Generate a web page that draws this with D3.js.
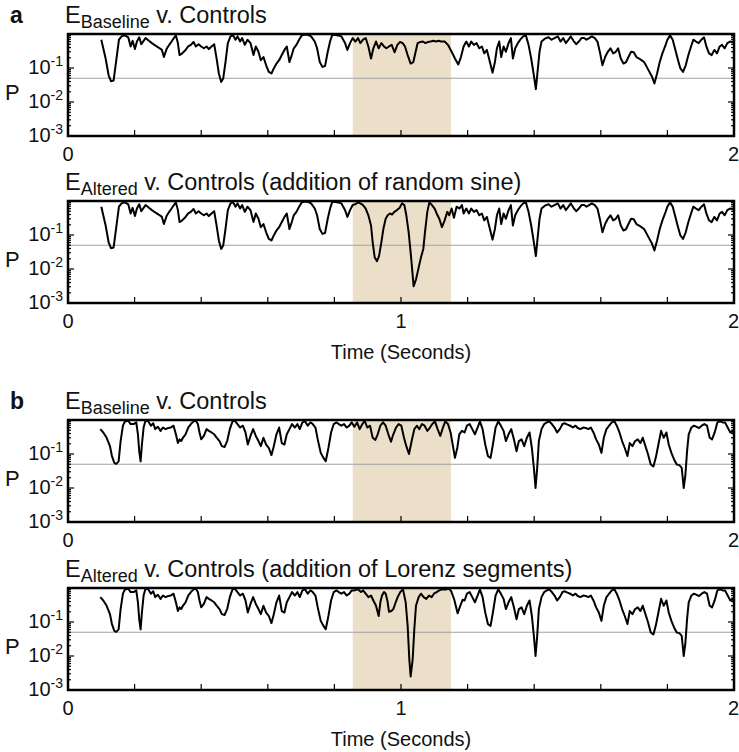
<!DOCTYPE html>
<html>
<head>
<meta charset="utf-8">
<script src="https://cdn.jsdelivr.net/npm/d3@7"></script>
<style>
body { margin: 0; background: #fff; }
text { font-family: "Liberation Sans", Arial, sans-serif; fill: #111; }
</style>
</head>
<body>
<svg id="chart"></svg>
<script>
// [time (s), P]
const headA = [[0.100,0.68],[0.113,0.19],[0.122,0.061],[0.129,0.041],[0.137,0.043],[0.145,0.17],[0.153,0.68],[0.161,0.85],[0.171,0.91],[0.181,0.80],[0.188,0.43],[0.194,0.63],[0.201,0.36],[0.207,0.60],[0.214,0.80],[0.220,0.50],[0.227,0.63],[0.233,0.76],[0.243,0.63],[0.252,0.54],[0.262,0.46],[0.272,0.40],[0.282,0.34],[0.288,0.21],[0.296,0.36],[0.304,0.48],[0.311,0.60],[0.318,0.76],[0.324,0.91],[0.330,0.54],[0.335,0.24],[0.343,0.27],[0.353,0.34],[0.361,0.43],[0.369,0.48],[0.377,0.58],[0.384,0.43],[0.392,0.50],[0.400,0.43],[0.408,0.38],[0.416,0.43],[0.423,0.36],[0.431,0.43],[0.439,0.50],[0.447,0.17],[0.453,0.069],[0.460,0.039],[0.466,0.049],[0.473,0.15],[0.480,0.54],[0.488,0.85],[0.496,0.91],[0.503,0.68],[0.509,0.85],[0.517,0.60],[0.523,0.76],[0.531,0.48],[0.539,0.68],[0.548,0.54],[0.557,0.24],[0.564,0.43],[0.572,0.30],[0.579,0.17],[0.587,0.21],[0.595,0.12],[0.603,0.077],[0.611,0.069],[0.618,0.097],[0.626,0.135],[0.634,0.17],[0.642,0.24],[0.650,0.34],[0.657,0.43],[0.665,0.15],[0.672,0.24],[0.678,0.38],[0.686,0.48],[0.694,0.68],[0.702,0.91],[0.711,0.95],[0.720,0.95],[0.730,0.85],[0.741,0.60],[0.748,0.38],[0.756,0.15],[0.764,0.108],[0.772,0.115],[0.780,0.30],[0.787,0.60],[0.793,0.91],[0.800,0.95],[0.811,0.91],[0.821,0.85],[0.832,0.54],[0.839,0.34],[0.847,0.54]];
const winBaseA = [[0.855,0.76],[0.863,0.60],[0.871,0.76],[0.878,0.54],[0.886,0.68],[0.894,0.76],[0.902,0.43],[0.910,0.19],[0.917,0.38],[0.925,0.60],[0.933,0.38],[0.941,0.54],[0.949,0.43],[0.956,0.38],[0.964,0.43],[0.972,0.48],[0.981,0.29],[0.989,0.48],[0.997,0.58],[1.005,0.54],[1.012,0.43],[1.020,0.24],[1.029,0.135],[1.037,0.15],[1.044,0.30],[1.050,0.54],[1.058,0.58],[1.066,0.60],[1.073,0.54],[1.081,0.58],[1.089,0.60],[1.097,0.63],[1.105,0.60],[1.113,0.63],[1.120,0.60],[1.131,0.60],[1.141,0.48],[1.152,0.30],[1.162,0.19],[1.172,0.127],[1.180,0.21]];
const winAltA = [[0.855,0.76],[0.863,0.80],[0.871,0.91],[0.878,0.85],[0.886,0.76],[0.894,0.60],[0.902,0.38],[0.910,0.19],[0.915,0.061],[0.921,0.022],[0.928,0.017],[0.934,0.024],[0.941,0.061],[0.947,0.15],[0.954,0.30],[0.960,0.38],[0.967,0.43],[0.973,0.40],[0.980,0.48],[0.988,0.54],[0.996,0.63],[1.003,0.85],[1.010,0.76],[1.016,0.38],[1.023,0.12],[1.030,0.024],[1.038,0.0031],[1.045,0.0049],[1.053,0.011],[1.060,0.022],[1.067,0.039],[1.072,0.12],[1.079,0.48],[1.085,0.91],[1.093,0.76],[1.101,0.60],[1.107,0.43],[1.115,0.30],[1.123,0.17],[1.131,0.27],[1.139,0.48],[1.145,0.38],[1.152,0.60],[1.159,0.32],[1.167,0.68],[1.175,0.60],[1.183,0.76]];
const tailA = [[1.188,0.43],[1.196,0.60],[1.204,0.43],[1.211,0.60],[1.219,0.48],[1.227,0.54],[1.235,0.38],[1.243,0.43],[1.250,0.27],[1.258,0.34],[1.267,0.15],[1.275,0.073],[1.282,0.15],[1.288,0.38],[1.295,0.60],[1.301,0.21],[1.308,0.43],[1.315,0.30],[1.323,0.54],[1.330,0.76],[1.336,0.19],[1.343,0.38],[1.351,0.54],[1.358,0.68],[1.367,0.85],[1.375,0.91],[1.383,0.48],[1.391,0.19],[1.399,0.061],[1.405,0.024],[1.410,0.077],[1.416,0.30],[1.422,0.60],[1.432,0.73],[1.443,0.80],[1.452,0.68],[1.461,0.76],[1.471,0.85],[1.479,0.60],[1.487,0.76],[1.495,0.54],[1.503,0.68],[1.510,0.85],[1.518,0.63],[1.526,0.50],[1.534,0.60],[1.542,0.76],[1.550,0.76],[1.557,0.68],[1.565,0.76],[1.573,0.85],[1.582,0.76],[1.590,0.60],[1.598,0.27],[1.605,0.12],[1.613,0.21],[1.621,0.30],[1.629,0.38],[1.637,0.27],[1.645,0.30],[1.652,0.38],[1.660,0.19],[1.668,0.135],[1.676,0.15],[1.683,0.21],[1.691,0.30],[1.699,0.29],[1.707,0.21],[1.715,0.19],[1.722,0.17],[1.730,0.15],[1.738,0.108],[1.746,0.077],[1.754,0.055],[1.761,0.035],[1.769,0.069],[1.777,0.15],[1.785,0.27],[1.793,0.43],[1.800,0.68],[1.808,0.91],[1.816,0.68],[1.824,0.34],[1.832,0.17],[1.839,0.097],[1.847,0.077],[1.855,0.12],[1.863,0.24],[1.871,0.43],[1.878,0.68],[1.886,0.60],[1.894,0.54],[1.902,0.68],[1.910,0.80],[1.917,0.43],[1.925,0.27],[1.933,0.24],[1.941,0.34],[1.949,0.27],[1.957,0.43],[1.964,0.48],[1.972,0.38],[1.980,0.54],[1.988,0.60],[1.996,0.58],[2.000,0.63]];

const headB = [[0.097,0.54],[0.106,0.43],[0.116,0.30],[0.126,0.17],[0.132,0.087],[0.139,0.055],[0.145,0.051],[0.152,0.061],[0.158,0.24],[0.165,0.68],[0.171,0.91],[0.181,0.95],[0.188,0.76],[0.197,0.76],[0.205,0.85],[0.210,0.38],[0.214,0.12],[0.218,0.061],[0.222,0.19],[0.227,0.60],[0.232,0.91],[0.240,0.95],[0.249,0.68],[0.256,0.80],[0.262,0.54],[0.270,0.63],[0.278,0.48],[0.285,0.60],[0.293,0.54],[0.301,0.58],[0.309,0.60],[0.317,0.68],[0.324,0.38],[0.330,0.21],[0.335,0.27],[0.340,0.24],[0.345,0.30],[0.353,0.38],[0.361,0.60],[0.369,0.76],[0.377,0.91],[0.384,0.95],[0.390,0.76],[0.395,0.43],[0.400,0.27],[0.408,0.34],[0.416,0.54],[0.423,0.48],[0.431,0.43],[0.439,0.38],[0.447,0.30],[0.455,0.24],[0.462,0.17],[0.470,0.16],[0.478,0.24],[0.486,0.54],[0.494,0.91],[0.501,0.95],[0.509,0.76],[0.517,0.60],[0.525,0.68],[0.533,0.43],[0.540,0.19],[0.548,0.34],[0.556,0.54],[0.564,0.34],[0.572,0.24],[0.579,0.17],[0.587,0.30],[0.595,0.19],[0.603,0.15],[0.611,0.093],[0.618,0.17],[0.626,0.38],[0.634,0.60],[0.642,0.21],[0.650,0.19],[0.657,0.38],[0.665,0.54],[0.673,0.76],[0.681,0.60],[0.689,0.76],[0.696,0.54],[0.704,0.85],[0.712,0.91],[0.720,0.68],[0.728,0.85],[0.735,0.76],[0.743,0.60],[0.751,0.24],[0.759,0.108],[0.767,0.077],[0.774,0.061],[0.782,0.15],[0.790,0.43],[0.798,0.76],[0.806,0.85],[0.813,0.76],[0.821,0.68],[0.829,0.76],[0.837,0.60],[0.845,0.68]];
const winBaseB = [[0.852,0.85],[0.860,0.63],[0.868,0.85],[0.876,0.54],[0.884,0.76],[0.891,0.95],[0.899,0.60],[0.907,0.68],[0.915,0.30],[0.923,0.26],[0.930,0.38],[0.938,0.68],[0.946,0.85],[0.954,0.68],[0.962,0.38],[0.970,0.23],[0.977,0.38],[0.985,0.60],[0.993,0.76],[1.001,0.68],[1.009,0.30],[1.016,0.17],[1.024,0.10],[1.032,0.24],[1.040,0.54],[1.048,0.68],[1.055,0.54],[1.063,0.76],[1.071,0.68],[1.079,0.48],[1.087,0.60],[1.094,0.76],[1.102,0.91],[1.110,0.54],[1.118,0.34],[1.126,0.60],[1.133,0.91],[1.141,0.76],[1.149,0.43],[1.157,0.15],[1.162,0.077],[1.169,0.15],[1.175,0.38],[1.183,0.48]];
const winAltB = [[0.852,0.85],[0.860,0.85],[0.871,0.91],[0.880,0.76],[0.886,0.85],[0.894,0.68],[0.902,0.54],[0.910,0.60],[0.917,0.43],[0.925,0.30],[0.933,0.15],[0.938,0.38],[0.943,0.60],[0.949,0.76],[0.954,0.68],[0.959,0.43],[0.964,0.20],[0.971,0.21],[0.977,0.24],[0.984,0.38],[0.990,0.54],[0.998,0.76],[1.006,0.91],[1.014,0.38],[1.020,0.077],[1.025,0.0079],[1.029,0.0025],[1.035,0.0079],[1.040,0.061],[1.045,0.30],[1.053,0.54],[1.060,0.68],[1.068,0.54],[1.076,0.48],[1.084,0.60],[1.092,0.54],[1.099,0.68],[1.107,0.76],[1.115,0.85],[1.123,0.91],[1.133,0.91],[1.144,0.95],[1.151,0.80],[1.160,0.45],[1.170,0.18],[1.178,0.30],[1.185,0.45]];
const tailB = [[1.191,0.43],[1.198,0.68],[1.206,0.76],[1.214,0.54],[1.222,0.38],[1.230,0.60],[1.237,0.91],[1.245,0.54],[1.253,0.19],[1.261,0.087],[1.269,0.077],[1.276,0.19],[1.284,0.60],[1.292,0.91],[1.300,0.68],[1.308,0.48],[1.315,0.24],[1.323,0.38],[1.331,0.54],[1.339,0.27],[1.347,0.12],[1.354,0.24],[1.362,0.27],[1.370,0.17],[1.378,0.30],[1.386,0.43],[1.393,0.15],[1.399,0.039],[1.404,0.010],[1.409,0.039],[1.414,0.24],[1.422,0.54],[1.430,0.76],[1.438,0.85],[1.445,0.91],[1.453,0.76],[1.461,0.60],[1.469,0.43],[1.477,0.54],[1.485,0.76],[1.492,0.80],[1.500,0.73],[1.508,0.68],[1.516,0.60],[1.524,0.68],[1.531,0.58],[1.539,0.54],[1.547,0.60],[1.555,0.58],[1.563,0.54],[1.570,0.60],[1.578,0.43],[1.586,0.27],[1.594,0.19],[1.602,0.108],[1.609,0.30],[1.617,0.54],[1.625,0.68],[1.633,0.85],[1.641,0.91],[1.648,0.68],[1.656,0.43],[1.664,0.24],[1.672,0.15],[1.680,0.087],[1.687,0.21],[1.695,0.17],[1.703,0.24],[1.711,0.27],[1.719,0.21],[1.726,0.30],[1.734,0.17],[1.742,0.097],[1.750,0.049],[1.758,0.043],[1.765,0.077],[1.773,0.19],[1.781,0.48],[1.789,0.30],[1.797,0.43],[1.804,0.19],[1.812,0.108],[1.820,0.069],[1.828,0.049],[1.836,0.047],[1.843,0.039],[1.849,0.010],[1.854,0.024],[1.859,0.12],[1.864,0.38],[1.872,0.60],[1.880,0.68],[1.888,0.63],[1.895,0.58],[1.903,0.68],[1.911,0.76],[1.919,0.68],[1.927,0.30],[1.934,0.27],[1.942,0.43],[1.950,0.85],[1.958,0.91],[1.966,0.85],[1.973,0.85],[1.981,0.60],[1.989,0.43],[1.996,0.48],[2.000,0.38]];

const sigLevel = 0.05;
const windowSpan = [0.855, 1.15];
const yTickValues = [1e-1, 1e-2, 1e-3];
const yTickExps = ["-1", "-2", "-3"];

const panels = [
    { tag: "a", sub: "Baseline", rest: " v. Controls", data: headA.concat(winBaseA, tailA), xLabels: ["0", "", "2"], time: false },
    { tag: "",  sub: "Altered", rest: " v. Controls (addition of random sine)", data: headA.concat(winAltA, tailA), xLabels: ["0", "1", "2"], time: true },
    { tag: "b", sub: "Baseline", rest: " v. Controls", data: headB.concat(winBaseB, tailB), xLabels: ["0", "", "2"], time: false },
    { tag: "",  sub: "Altered", rest: " v. Controls (addition of Lorenz segments)", data: headB.concat(winAltB, tailB), xLabels: ["0", "1", "2"], time: true }
];

const W = 739, H = 752;
const left = 68, right = 734, ph = 102;
const tops = [34, 201, 420, 588];

const svg = d3.select("#chart").attr("width", W).attr("height", H);
const x = d3.scaleLinear().domain([0, 2]).range([left, right]);

panels.forEach((p, i) => {
    const top = tops[i];
    const y = d3.scaleLog().domain([1e-3, 1]).range([top + ph, top]);
    const g = svg.append("g");

    // stimulus window
    g.append("rect")
        .attr("x", x(windowSpan[0])).attr("y", top)
        .attr("width", x(windowSpan[1]) - x(windowSpan[0]))
        .attr("height", ph)
        .attr("fill", "#ecdfc9");

    // p = 0.05 line
    g.append("line")
        .attr("x1", left).attr("x2", right)
        .attr("y1", y(sigLevel)).attr("y2", y(sigLevel))
        .attr("stroke", "#a0a0a0").attr("stroke-width", 1.2);

    const line = d3.line().x(d => x(d[0])).y(d => y(d[1]));
    g.append("path")
        .datum(p.data)
        .attr("fill", "none")
        .attr("stroke", "#000")
        .attr("stroke-width", 2)
        .attr("stroke-linejoin", "round")
        .attr("d", line);

    // ticks, pointing inward
    y.ticks().forEach(v => {
        const major = Math.abs(Math.log10(v) - Math.round(Math.log10(v))) < 1e-9;
        const len = major ? 6 : 3;
        g.append("line").attr("x1", left).attr("x2", left + len)
            .attr("y1", y(v)).attr("y2", y(v)).attr("stroke", "#000").attr("stroke-width", 1.2);
        g.append("line").attr("x1", right).attr("x2", right - len)
            .attr("y1", y(v)).attr("y2", y(v)).attr("stroke", "#000").attr("stroke-width", 1.2);
    });
    x.ticks(10).slice(1, -1).forEach(v => {
        g.append("line").attr("x1", x(v)).attr("x2", x(v))
            .attr("y1", top + ph).attr("y2", top + ph - 6)
            .attr("stroke", "#000").attr("stroke-width", 1.2);
    });

    g.append("rect")
        .attr("x", left).attr("y", top)
        .attr("width", right - left).attr("height", ph)
        .attr("fill", "none").attr("stroke", "#000").attr("stroke-width", 2.5);

    // y tick labels
    yTickValues.forEach((v, k) => {
        const t = g.append("text")
            .attr("x", left - 5).attr("y", y(v) + 6)
            .attr("text-anchor", "end")
            .style("font-size", "20px");
        t.append("tspan").text("10");
        t.append("tspan").attr("dy", -8).style("font-size", "14px").text(yTickExps[k]);
    });
    g.append("text")
        .attr("x", 5).attr("y", top + 66)
        .style("font-size", "22px")
        .text("P");

    // x tick labels
    [0, 1, 2].forEach((v, k) => {
        if (!p.xLabels[k]) return;
        g.append("text")
            .attr("x", v === 2 ? W : x(v)).attr("y", top + ph + 25)
            .attr("text-anchor", v === 2 ? "end" : "middle")
            .style("font-size", "20px")
            .text(p.xLabels[k]);
    });

    if (p.time) {
        g.append("text")
            .attr("x", x(1)).attr("y", top + ph + 56)
            .attr("text-anchor", "middle")
            .style("font-size", "20px")
            .text("Time (Seconds)");
    }

    // title
    if (p.tag) {
        g.append("text")
            .attr("x", 10).attr("y", top - 11)
            .style("font-size", "23px").style("font-weight", "bold")
            .text(p.tag);
    }
    const title = g.append("text")
        .attr("x", 65).attr("y", top - 11)
        .style("font-size", "23.5px");
    title.append("tspan").text("E");
    title.append("tspan").attr("dy", 5).style("font-size", "18px").text(p.sub);
    title.append("tspan").attr("dy", -5).text(p.rest);
});
</script>
</body>
</html>
